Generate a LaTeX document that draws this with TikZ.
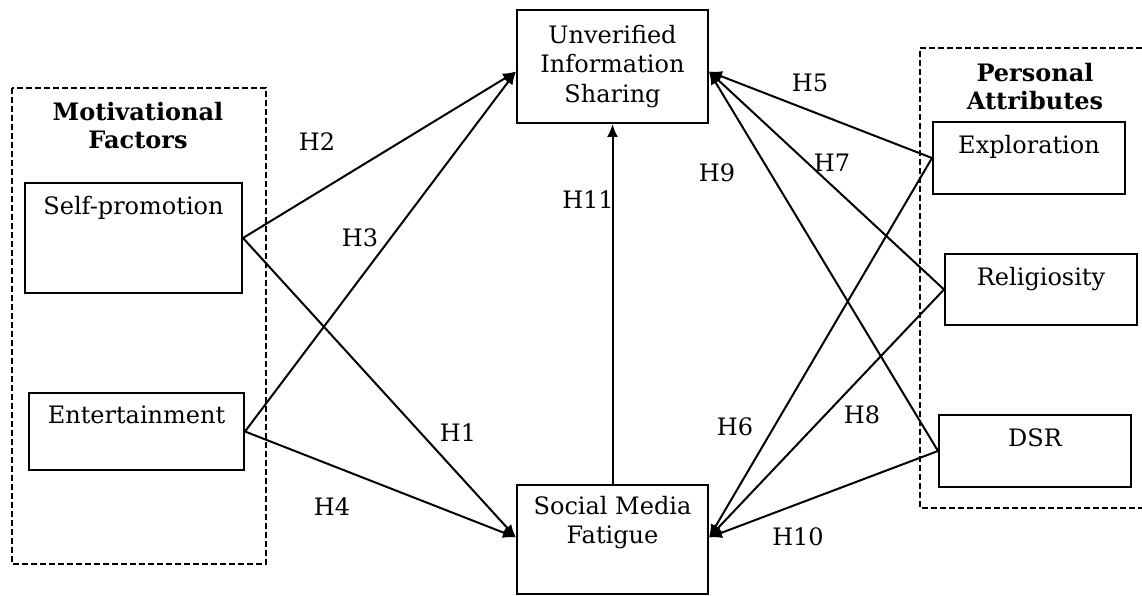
\documentclass[tikz,border=0pt]{standalone}
\usepackage{fontspec}
\setmainfont{DejaVu Serif}
\usetikzlibrary{arrows.meta}

\begin{document}
\begin{tikzpicture}[
    x=1pt, y=-1pt,
    font=\fontsize{24}{29.5}\selectfont,
    arrow/.style={-{Latex[length=13pt,width=11pt]}, line width=2pt},
    var/.style={draw, line width=2pt, inner sep=0pt},
    toplab/.style={anchor=north, align=center, inner sep=0pt, yshift=-14pt},
    group/.style={line width=1.6pt, dash pattern=on 6pt off 3pt},
    title/.style={font=\fontsize{24}{28}\selectfont\bfseries, align=center},
    hyp/.style={inner sep=0pt}
]
\useasboundingbox (0,0) rectangle (1142,596);

% group frames
\draw[group] (12,88) rectangle (266,564);
\draw[group] (1142,48) -- (920,48) -- (920,508) -- (1142,508);
\node[title] (motiv) at (138,126) {Motivational\\Factors};
\node[title] (person) at (1035,87) {Personal\\Attributes};

% constructs
\node[var, minimum width=217pt, minimum height=110pt,
      label={[toplab]north:Self-promotion}] (selfpromo) at (133.5,238) {};
\node[var, minimum width=215pt, minimum height=77pt,
      label={[toplab]north:Entertainment}] (entertain) at (136.5,431.5) {};
\node[var, minimum width=191pt, minimum height=113pt, align=center]
      (uis) at (612.5,66.5) {Unverified\\Information\\Sharing};
\node[var, minimum width=191pt, minimum height=109pt,
      label={[toplab, yshift=2pt]north:{Social Media\\Fatigue}}] (smf) at (612.5,539.5) {};
\node[var, minimum width=192pt, minimum height=72pt,
      label={[toplab]north:Exploration}] (explo) at (1029,158) {};
\node[var, minimum width=192pt, minimum height=71pt,
      label={[toplab]north:Religiosity}] (relig) at (1041,289.5) {};
\node[var, minimum width=192pt, minimum height=72pt,
      label={[toplab]north:DSR}] (dsr) at (1035,451) {};

% hypotheses
\draw[arrow] (selfpromo.east) -- ([yshift=2pt]smf.west);
\draw[arrow] (selfpromo.east) -- ([yshift=-5pt]uis.west);
\draw[arrow] (entertain.east) -- ([yshift=-5pt]uis.west);
\draw[arrow] (entertain.east) -- ([yshift=2pt]smf.west);
\draw[arrow] (explo.west) -- ([yshift=-5pt]uis.east);
\draw[arrow] (explo.west) -- ([yshift=2pt]smf.east);
\draw[arrow] (relig.west) -- ([yshift=-5pt]uis.east);
\draw[arrow] (relig.west) -- ([yshift=2pt]smf.east);
\draw[arrow] (dsr.west) -- ([yshift=-5pt]uis.east);
\draw[arrow] (dsr.west) -- ([yshift=2pt]smf.east);
\draw[arrow] (smf.north) -- (uis.south);

\node[hyp] (h1) at (458,433) {H1};
\node[hyp] (h2) at (317,142) {H2};
\node[hyp] (h3) at (360,238) {H3};
\node[hyp] (h4) at (332,507) {H4};
\node[hyp] (h5) at (810,83) {H5};
\node[hyp] (h6) at (735,427) {H6};
\node[hyp] (h7) at (832,163) {H7};
\node[hyp] (h8) at (862,415) {H8};
\node[hyp] (h9) at (717,173) {H9};
\node[hyp] (h10) at (798,537) {H10};
\node[hyp] (h11) at (588,200) {H11};
\end{tikzpicture}
\end{document}
